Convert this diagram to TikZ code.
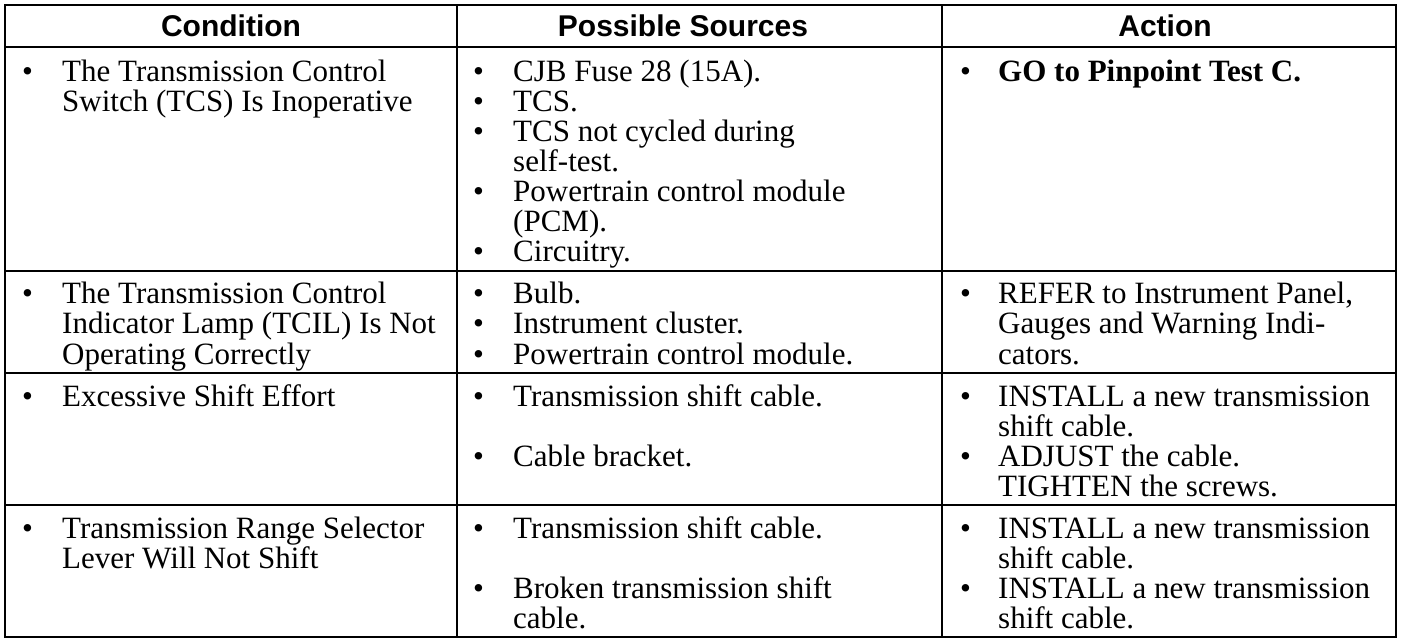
\documentclass[tikz,border=0pt]{standalone}
\usepackage{fontspec}
\setmainfont{Liberation Serif}
\newfontfamily\hdfont{Liberation Sans}
\newcommand{\bodyfont}{\fontsize{31}{30}\selectfont}
\newcommand{\headfont}{\hdfont\bfseries\fontsize{30}{30}\selectfont}
\tikzset{
  txt/.style={anchor=base west, inner sep=0pt, font=\bodyfont},
  bul/.style={anchor=base west, inner sep=0pt, font=\bodyfont},
  hd/.style={anchor=base, inner sep=0pt, font=\headfont},
  frame/.style={line width=1.8pt},
  hline/.style={line width=2.6pt},
  rline/.style={line width=1.8pt},
  thinline/.style={line width=1.1pt},
}
\newcommand{\Ln}[4]{\node[txt] (#1) at (#2,#3) {#4};}
\newcommand{\Bu}[3]{\node[bul] (#1) at (#2,#3) {\textbullet};}
\begin{document}
\begin{tikzpicture}[x=1pt,y=-1pt]
\useasboundingbox (0,0) rectangle (1408,644);
% grid
\draw[frame] (5,5) rectangle (1396,637);
\draw[hline] (5,47) -- (1396,47);
\draw[thinline] (5,271) -- (1396,271);
\draw[rline] (5,373) -- (1396,373);
\draw[rline] (5,505) -- (1396,505);
\draw[rline] (457,5) -- (457,637);
\draw[thinline] (942,5) -- (942,637);
% headers
\node[hd] (h1) at (231,37) {Condition};
\node[hd] (h2) at (683,37) {Possible Sources};
\node[hd] (h3) at (1165,37) {Action};
% column 1
\Bu{b11}{22}{82}\Ln{c11a}{62}{82}{The Transmission Control}
\Ln{c11b}{62}{112}{Switch (TCS) Is Inoperative}
\Bu{b12}{22}{304}\Ln{c12a}{62}{304}{The Transmission Control}
\Ln{c12b}{62}{334}{Indicator Lamp (TCIL) Is Not}
\Ln{c12c}{62}{364}{Operating Correctly}
\Bu{b13}{22}{406}\Ln{c13a}{62}{406}{Excessive Shift Effort}
\Bu{b14}{22}{538}\Ln{c14a}{62}{538}{Transmission Range Selector}
\Ln{c14b}{62}{568}{Lever Will Not Shift}
% column 2
\Bu{b21a}{473}{82}\Ln{c21a}{513}{82}{CJB Fuse 28 (15A).}
\Bu{b21b}{473}{112}\Ln{c21b}{513}{112}{TCS.}
\Bu{b21c}{473}{142}\Ln{c21c}{513}{142}{TCS not cycled during}
\Ln{c21d}{513}{172}{self-test.}
\Bu{b21e}{473}{202}\Ln{c21e}{513}{202}{Powertrain control module}
\Ln{c21f}{513}{232}{(PCM).}
\Bu{b21g}{473}{262}\Ln{c21g}{513}{262}{Circuitry.}
\Bu{b22a}{473}{304}\Ln{c22a}{513}{304}{Bulb.}
\Bu{b22b}{473}{334}\Ln{c22b}{513}{334}{Instrument cluster.}
\Bu{b22c}{473}{364}\Ln{c22c}{513}{364}{Powertrain control module.}
\Bu{b23a}{473}{406}\Ln{c23a}{513}{406}{Transmission shift cable.}
\Bu{b23b}{473}{466}\Ln{c23b}{513}{466}{Cable bracket.}
\Bu{b24a}{473}{538}\Ln{c24a}{513}{538}{Transmission shift cable.}
\Bu{b24b}{473}{598}\Ln{c24b}{513}{598}{Broken transmission shift}
\Ln{c24c}{513}{628}{cable.}
% column 3
\Bu{b31}{960}{82}\Ln{c31a}{998}{82}{\textbf{GO to Pinpoint Test C.}}
\Bu{b32}{960}{304}\Ln{c32a}{998}{304}{REFER to Instrument Panel,}
\Ln{c32b}{998}{334}{Gauges and Warning Indi-}
\Ln{c32c}{998}{364}{cators.}
\Bu{b33a}{960}{406}\Ln{c33a}{998}{406}{INSTALL a new transmission}
\Ln{c33b}{998}{436}{shift cable.}
\Bu{b33b}{960}{466}\Ln{c33c}{998}{466}{ADJUST the cable.}
\Ln{c33d}{998}{496}{TIGHTEN the screws.}
\Bu{b34a}{960}{538}\Ln{c34a}{998}{538}{INSTALL a new transmission}
\Ln{c34b}{998}{568}{shift cable.}
\Bu{b34b}{960}{598}\Ln{c34c}{998}{598}{INSTALL a new transmission}
\Ln{c34d}{998}{628}{shift cable.}
\end{tikzpicture}
\end{document}
